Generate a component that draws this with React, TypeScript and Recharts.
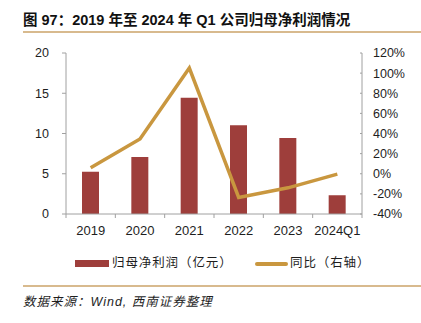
import React from "react";
import { Bar, ComposedChart, Line, XAxis, YAxis } from "recharts";

const categories = ["2019", "2020", "2021", "2022", "2023", "2024Q1"];
const netProfit = [5.25, 7.07, 14.43, 11.02, 9.44, 2.33];
const yoy = [5.9, 34.5, 105, -23.6, -14, -0.4];
const leftTicks = [0, 5, 10, 15, 20];
const rightTicks = [-40, -20, 0, 20, 40, 60, 80, 100, 120];
const seriesNames = ["归母净利润（亿元）", "同比（右轴）"];

const BAR = "#9e3e3b";
const GOLD = "#c9973f";
const RULE = "#d8ba8e";
const AXIS = "#a0a0a0";
const TEXT = "#1e1e1e";

const W = 421;
const M = { top: 53, right: 9, bottom: 0, left: 26 };
const LEFT_W = 40;
const RIGHT_W = 50;
const PLOT_W = W - M.left - M.right - LEFT_W - RIGHT_W;
const BAND = PLOT_W / categories.length;

const data = categories.map((c, i) => ({ name: c, profit: netProfit[i], yoy: yoy[i] }));

const latin = '"Liberation Sans", Arial, "Noto Sans CJK SC", sans-serif';
const cjk = '"Liberation Sans", "Noto Sans CJK SC", sans-serif';

function XTick(props: any) {
  const { x, y, payload, index } = props;
  const axisY = y - 12;
  return (
    <g>
      <line x1={x - BAND / 2} x2={x - BAND / 2} y1={axisY} y2={axisY + 4} stroke={AXIS} />
      {index === categories.length - 1 && (
        <line x1={x + BAND / 2} x2={x + BAND / 2} y1={axisY} y2={axisY + 4} stroke={AXIS} />
      )}
      <text x={x} y={y} dy="0.71em" textAnchor="middle" fill={TEXT} fontSize={13} fontFamily={latin}>
        {payload.value}
      </text>
    </g>
  );
}

function RightTick(props: any) {
  const { x, y, payload } = props;
  return (
    <g>
      <line x1={x - 13} x2={x - 11} y1={y} y2={y} stroke={AXIS} />
      <text x={x} y={y} dy="0.355em" textAnchor="start" fill={TEXT} fontSize={12.5} fontFamily={latin}>
        {payload.value + "%"}
      </text>
    </g>
  );
}

export default function App() {
  return (
    <div style={{ position: "absolute", left: 0, top: 0, width: W, height: 323, background: "#fff", fontFamily: cjk }}>
      <div
        style={{
          position: "absolute",
          left: 23,
          top: 10,
          fontSize: 14.5,
          fontWeight: 700,
          color: "#111",
          whiteSpace: "nowrap",
          lineHeight: "20px",
        }}
      >
        图 97：2019 年至 2024 年 Q1 公司归母净利润情况
      </div>
      <div style={{ position: "absolute", left: 23, top: 31, width: W - 23, height: 2, background: RULE }} />

      <div style={{ position: "absolute", left: 0, top: 0 }}>
        <ComposedChart width={W} height={245} data={data} margin={M}>
          <XAxis
            dataKey="name"
            xAxisId="x"
            height={31}
            stroke={AXIS}
            tickLine={false}
            tickSize={4}
            tickMargin={8}
            tick={<XTick />}
            interval={0}
          />
          <YAxis
            yAxisId="left"
            orientation="left"
            width={LEFT_W}
            domain={[0, 20]}
            ticks={leftTicks}
            interval={0}
            stroke={AXIS}
            tickSize={4}
            tickMargin={13}
            tick={{ fill: TEXT, fontSize: 12.5, fontFamily: latin }}
          />
          <YAxis
            yAxisId="right"
            orientation="right"
            width={RIGHT_W}
            domain={[-40, 120]}
            ticks={rightTicks}
            interval={0}
            stroke={AXIS}
            tickLine={false}
            tickSize={0}
            tickMargin={11}
            tick={<RightTick />}
          />
          <Bar xAxisId="x" yAxisId="left" dataKey="profit" fill={BAR} barSize={17} isAnimationActive={false} />
          <Line
            xAxisId="x"
            yAxisId="right"
            dataKey="yoy"
            stroke={GOLD}
            strokeWidth={3.5}
            dot={false}
            activeDot={false}
            type="linear"
            isAnimationActive={false}
          />
        </ComposedChart>
      </div>

      <div style={{ position: "absolute", left: 75, top: 260, width: 34, height: 7, background: BAR }} />
      <div
        style={{
          position: "absolute",
          left: 112,
          top: 254,
          fontSize: 12.5,
          letterSpacing: 0.9,
          lineHeight: "18px",
          color: TEXT,
          whiteSpace: "nowrap",
        }}
      >
        {seriesNames[0]}
      </div>
      <div style={{ position: "absolute", left: 255, top: 262, width: 33, height: 3.5, borderRadius: 2, background: GOLD }} />
      <div
        style={{
          position: "absolute",
          left: 290,
          top: 254,
          fontSize: 12.5,
          letterSpacing: 0.9,
          lineHeight: "18px",
          color: TEXT,
          whiteSpace: "nowrap",
        }}
      >
        {seriesNames[1]}
      </div>

      <div style={{ position: "absolute", left: 23, top: 285, width: W - 23, height: 2, background: RULE }} />
      <div
        style={{
          position: "absolute",
          left: 23,
          top: 293,
          fontSize: 12.5,
          fontStyle: "italic",
          letterSpacing: 1,
          lineHeight: "18px",
          color: TEXT,
          whiteSpace: "nowrap",
        }}
      >
        数据来源：Wind, 西南证券整理
      </div>
    </div>
  );
}
